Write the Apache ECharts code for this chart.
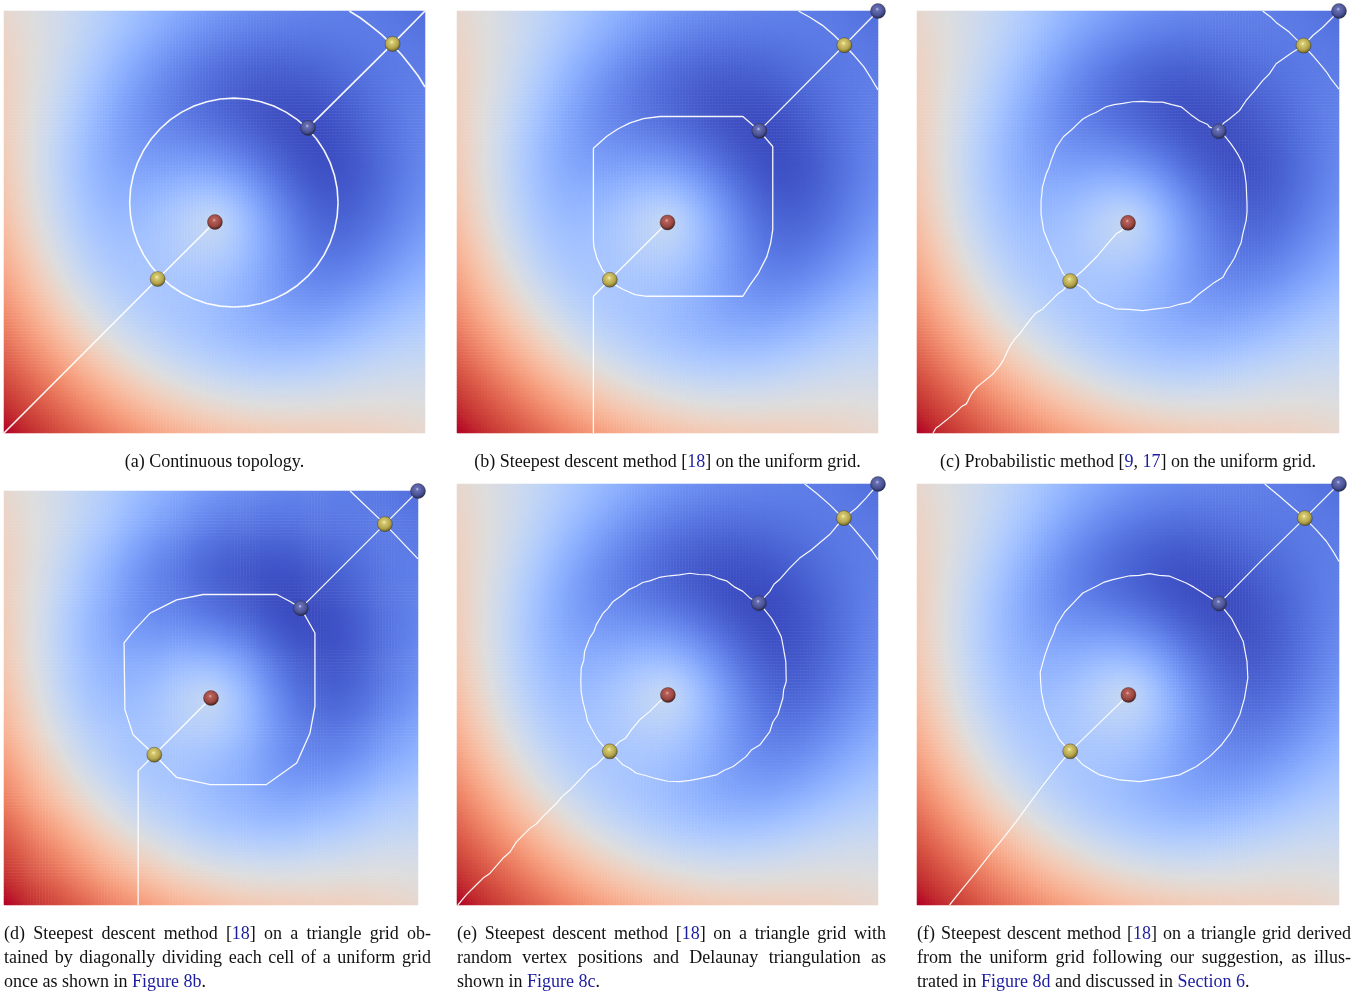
<!DOCTYPE html>
<html><head><meta charset="utf-8">
<script src="https://cdn.jsdelivr.net/npm/echarts@6/dist/echarts.min.js"></script>
<style>html,body{margin:0;padding:0;background:#fff}#chart{width:1359px;height:992px}</style>
</head><body><div id="chart"></div>
<script>
// ---------------- DATA ----------------
// scalar field (analytic test function shown in every panel), domain 0..100 x 0..100
const FIELD_GRID_N = 140;
const FIELD_CENTER = [50, 50];
const FIELD_SLOPE = 1.0;        // linear ramp along the diagonal
const RING_RADIUS = 25;
const RING_WIDTH2 = 645.6;
const RING_DEPTH = 0.804;

// critical points (u, v in 0..100)
const CP_A_MAX = [[50.1, 50.0]];
const CP_A_MIN = [[72.2, 72.3]];
const CP_A_SAD = [[36.5, 36.5], [92.3, 92.2]];
const CP_B_MAX = [[50.0, 49.9]];
const CP_B_MIN = [[71.8, 71.6], [100, 100]];
const CP_B_SAD = [[36.3, 36.3], [92.0, 91.9]];
const CP_C_MAX = [[50.0, 49.8]];
const CP_C_MIN = [[71.5, 71.5], [100, 100]];
const CP_C_SAD = [[36.3, 36.0], [91.6, 91.8]];
const CP_D_MAX = [[50.0, 50.0]];
const CP_D_MIN = [[71.7, 71.7], [100, 100]];
const CP_D_SAD = [[36.3, 36.3], [92.0, 92.0]];
const CP_E_MAX = [[50.1, 49.9]];
const CP_E_MIN = [[71.7, 71.7], [100, 100]];
const CP_E_SAD = [[36.3, 36.5], [91.9, 91.9]];
const CP_F_MAX = [[50.1, 49.9]];
const CP_F_MIN = [[71.6, 71.6], [100, 100]];
const CP_F_SAD = [[36.3, 36.5], [91.9, 91.9]];

// separatrices
const SEP_A_CIRCLE = [[79.35,54.6],[79.14,57.83],[78.51,61.01],[77.47,64.07],[76.03,66.98],[74.24,69.67],[72.10,72.10],[69.67,74.24],[66.98,76.03],[64.07,77.47],[61.01,78.51],[57.83,79.14],[54.6,79.35],
  [51.37,79.14],[48.19,78.51],[45.13,77.47],[42.22,76.03],[39.53,74.24],[37.10,72.10],[34.96,69.67],[33.17,66.98],[31.73,64.07],[30.69,61.01],[30.06,57.83],[29.85,54.6],
  [30.06,51.37],[30.69,48.19],[31.73,45.13],[33.17,42.22],[34.96,39.53],[37.10,37.10],[39.53,34.96],[42.22,33.17],[45.13,31.73],[48.19,30.69],[51.37,30.06],[54.6,29.85],
  [57.83,30.06],[61.01,30.69],[64.07,31.73],[66.98,33.17],[69.67,34.96],[72.10,37.10],[74.24,39.53],[76.03,42.22],[77.47,45.13],[78.51,48.19],[79.14,51.37],[79.35,54.6]];
const SEP_A_DIAG = [[0,0],[36.5,36.5],[50.1,50.0]];
const SEP_A_UP = [[72.2,72.3],[92.3,92.2],[100,100]];
const SEP_A_ARC = [[82.0,100],[84.6,98.4],[87.2,96.4],[89.7,94.4],[92.1,92.1],[94.4,89.7],[96.4,87.2],[98.4,84.6],[100,82.0]];

const SEP_B_LOOP = [[36.3,36.3],[34.4,38.9],[33.2,41.5],[32.5,44.2],[32.4,45.8],[32.4,67.5],[35.6,70.3],[38.3,72.1],[41.1,73.5],[44.3,74.5],[48.2,75.0],[67.9,75.0],[71.8,71.6],[75.0,67.9],[75.0,48.2],[74.5,45.0],[73.6,41.8],[71.6,37.9],[69.6,35.1],[67.9,32.4],[45.1,32.4],[42.3,32.8],[39.5,34.0],[37.5,35.1],[36.3,36.3]];
const SEP_B_DOWN = [[36.3,36.3],[32.4,32.4],[32.4,0]];
const SEP_B_MAXLINK = [[36.3,36.3],[50.0,49.9]];
const SEP_B_UP = [[71.8,71.6],[92.0,91.9],[100,100]];
const SEP_B_ARC = [[81.1,100],[84.0,98.4],[86.8,96.6],[89.5,94.3],[92.0,91.9],[94.3,89.5],[96.6,86.8],[98.4,84.0],[100,81.3]];

const SEP_C_LOOP = [[71.5,71.5],[69.2,72.6],[68.9,73.1],[66.9,74.0],[64.8,75.5],[64.4,75.9],[62.6,77.3],[60.4,77.8],[58.2,78.4],[55.8,78.4],[53.5,78.6],[51.1,78.5],[48.8,78.1],[46.7,77.8],[44.8,77.3],[42.5,76.0],[40.9,75.3],[39.3,74.4],[38.0,73.2],[36.9,72.1],[34.7,70.2],[33.8,68.9],[33.0,67.7],[31.8,64.6],[31.3,63.0],[30.6,61.4],[29.7,58.2],[29.6,56.7],[29.4,55.1],[29.4,51.9],[29.7,49.9],[30.0,48.0],[31.3,44.8],[32.0,43.1],[33.0,41.3],[33.8,39.4],[34.7,37.7],[36.3,36.0],[38.3,35.0],[40.1,33.8],[41.3,32.3],[42.9,31.0],[45.0,30.3],[47.2,29.4],[50.3,29.3],[53.5,29.0],[56.6,29.4],[59.8,29.8],[62.2,30.5],[64.6,31.0],[66.9,33.0],[68.4,34.1],[70.1,35.4],[72.5,36.9],[73.4,38.6],[74.4,40.1],[75.3,41.6],[76.0,43.3],[76.8,45.1],[77.2,47.2],[78.0,50.4],[78.2,52.3],[78.2,54.3],[78.0,59.0],[77.7,61.3],[77.2,63.8],[76.0,66.1],[75.3,67.2],[74.4,68.5],[72.8,70.5],[71.5,71.5]];
const SEP_C_DIAG = [[36.3,36.0],[34.6,33.8],[33.4,33.0],[32.2,31.8],[29.8,29.4],[28.0,28.3],[26.7,26.7],[24.3,23.5],[23.2,22.3],[21.9,20.4],[20.4,17.2],[19.5,15.8],[18.0,14.0],[15.2,11.7],[14.2,10.9],[12.9,9.3],[11.7,6.9],[10.6,6.3],[9.3,5.0],[6.9,3.0],[5.4,1.8],[4.5,1.2],[3.8,0]];
const SEP_C_MAXLINK = [[36.3,36.0],[39.3,38.5],[42.5,41.7],[44.8,44.4],[47.2,47.2],[48.4,47.9],[50.0,49.8]];
const SEP_C_UP = [[71.5,71.5],[72.6,73.4],[74.0,74.4],[76.4,76.4],[78.0,78.8],[80.3,81.5],[81.9,83.5],[83.5,85.1],[85.1,87.5],[86.7,88.6],[89.0,90.2],[91.6,91.8],[93.8,94.2],[96.1,96.1],[100,100]];
const SEP_C_ARC = [[81.9,100],[83.8,98.6],[85.1,97.3],[88.2,95.0],[89.8,93.4],[91.6,91.8],[93.8,89.4],[96.1,86.7],[97.0,85.6],[98.1,83.9],[100,81.5]];

const SEP_D_LOOP = [[36.3,36.3],[31.2,41.1],[29.2,47.2],[29.0,63.3],[31.2,66.1],[35.3,70.5],[41.7,73.7],[48.1,75.0],[65.9,75.0],[69.1,73.3],[71.7,71.7],[75.1,65.7],[75.1,48.0],[73.9,41.5],[70.7,34.3],[63.4,29.1],[49.8,29.1],[41.7,30.8],[36.3,36.3]];
const SEP_D_DOWN = [[36.3,36.3],[32.4,32.4],[32.4,0]];
const SEP_D_MAXLINK = [[36.3,36.3],[50.0,50.0]];
const SEP_D_UP = [[71.7,71.7],[92.0,92.0],[100,100]];
const SEP_D_X = [[83.6,100],[92.0,92.0],[100,83.6]];

const SEP_E_LOOP = [[71.7,71.7],[69.5,73.0],[67.9,74.5],[66.0,75.5],[64.0,77.0],[62.0,77.6],[60.0,78.4],[57.5,78.5],[55.3,78.8],[52.8,78.4],[50.5,78.2],[48.0,77.8],[45.8,77.0],[44.1,76.6],[42.6,75.7],[40.8,74.9],[39.4,73.7],[37.1,72.1],[35.8,70.4],[34.7,69.3],[33.1,66.6],[32.5,64.9],[31.5,63.4],[30.3,60.2],[30.1,58.1],[29.5,56.3],[29.4,53.1],[29.5,50.6],[29.9,48.3],[30.7,45.2],[31.0,43.7],[31.9,42.0],[33.5,39.2],[34.6,37.9],[36.3,36.5],[39.4,33.3],[41.0,32.5],[42.6,31.3],[45.0,30.7],[47.3,30.0],[50.0,29.4],[52.9,29.3],[55.4,29.6],[57.6,30.0],[61.6,30.9],[63.5,32.0],[65.6,32.9],[68.7,35.3],[70.0,36.9],[71.9,38.0],[74.3,41.2],[75.0,43.4],[76.2,45.2],[77.4,49.1],[77.6,51.2],[78.2,53.1],[78.1,57.8],[77.4,61.8],[77.0,63.8],[76.2,65.4],[74.7,68.1],[73.1,70.1],[71.7,71.7]];
const SEP_E_DIAG = [[36.3,36.5],[33.1,33.3],[31.2,32.0],[29.9,30.5],[26.8,27.3],[25.0,25.8],[23.6,24.1],[20.4,21.0],[18.9,19.3],[17.3,18.2],[14.1,15.0],[12.6,12.6],[10.9,11.1],[7.8,7.5],[6.2,6.4],[4.6,4.8],[2.2,2.4],[0.2,0]];
const SEP_E_MAXLINK = [[36.3,36.5],[38.6,38.8],[40.0,39.6],[41.4,41.6],[43.4,44.0],[45.8,46.0],[48.1,48.3],[50.1,49.9]];
const SEP_E_UP = [[71.7,71.7],[74.3,74.5],[75.3,76.2],[76.6,77.3],[79.0,80.0],[81.4,82.4],[84.2,84.4],[86.1,86.0],[88.5,88.0],[90.1,89.9],[91.9,91.9],[94.9,94.3],[97.2,96.7],[100,100]];
const SEP_E_ARC = [[82.6,100],[85.4,97.8],[88.5,95.1],[90.5,93.1],[91.9,91.9],[94.1,89.5],[96.4,86.8],[98.4,84.4],[100,82.0]];

const SEP_F_LOOP = [[71.6,71.6],[67.8,74.1],[65.6,75.5],[63.8,76.5],[59.9,78.1],[57.4,78.3],[55.1,78.7],[52.7,78.3],[50.4,78.2],[46.4,77.3],[44.4,76.7],[42.5,75.7],[39.3,74.1],[37.0,71.7],[35.0,69.6],[33.0,66.4],[32.3,64.4],[31.4,62.4],[30.3,59.3],[29.2,55.3],[29.3,52.9],[29.5,50.5],[30.3,46.6],[31.8,43.0],[33.8,39.2],[36.3,36.5],[39.3,33.3],[41.2,32.1],[43.3,30.9],[48.0,29.7],[52.8,29.3],[57.5,30.0],[62.2,30.9],[66.2,32.9],[69.4,35.3],[72.1,38.0],[74.5,41.2],[76.5,45.2],[77.6,49.1],[78.4,53.9],[78.2,57.8],[77.3,62.6],[76.1,65.0],[74.5,68.1],[72.9,70.1],[71.6,71.6]];
const SEP_F_DIAG = [[36.3,36.5],[33.0,32.5],[29.9,28.5],[26.7,24.2],[23.5,19.8],[20.4,15.8],[17.2,11.9],[14.1,7.9],[10.9,4.0],[7.7,0]];
const SEP_F_MAXLINK = [[36.3,36.5],[50.1,49.9]];
const SEP_F_UP = [[71.6,71.6],[81.6,81.8],[91.9,91.9],[100,100]];
const SEP_F_ARC = [[82.4,100],[85.9,97.1],[89.1,94.3],[91.9,91.9],[94.6,89.1],[97.0,86.4],[98.6,84.0],[100,81.6]];

// captions
const CAPTION_TOP = [
  "(a) Continuous topology.",
  "(b) Steepest descent method [{r|18}] on the uniform grid.",
  "(c) Probabilistic method [{r|9}, {r|17}] on the uniform grid."
];
const CAPTION_D = ["(d) Steepest descent method [{r|18}] on a triangle grid ob-",
  "tained by diagonally dividing each cell of a uniform grid",
  "once as shown in {r|Figure 8b}."];
const CAPTION_E = ["(e) Steepest descent method [{r|18}] on a triangle grid with",
  "random vertex positions and Delaunay triangulation as",
  "shown in {r|Figure 8c}."];
const CAPTION_F = ["(f) Steepest descent method [{r|18}] on a triangle grid derived",
  "from the uniform grid following our suggestion, as illus-",
  "trated in {r|Figure 8d} and discussed in {r|Section 6}."];

// ---------------- STYLE / LAYOUT ----------------
const COOLWARM = ['#3b4cc0','#445acc','#4d68d7','#5775e1','#6282ea','#6c8ef1','#779af7','#82a5fb','#8db0fe','#98b9ff','#a3c2ff','#aec9fd','#b8d0f9','#c2d5f4','#ccd9ee','#d5dbe6','#dddddd','#e5d8d1','#ecd3c5','#f1ccb9','#f5c4ad','#f7bba0','#f7b194','#f7a687','#f49a7b','#f18d6f','#ec7f63','#e57058','#de604d','#d55042','#cb3e38','#c0282f','#b40426'];
const PANELS = [
  {left:4,   top:11,  width:421, height:422, lw:1.6, cp:[CP_A_MAX,CP_A_MIN,CP_A_SAD], lines:[[SEP_A_CIRCLE,false],[SEP_A_DIAG,false],[SEP_A_UP,false],[SEP_A_ARC,false]]},
  {left:457, top:11,  width:421, height:422, lw:1.3, cp:[CP_B_MAX,CP_B_MIN,CP_B_SAD], lines:[[SEP_B_LOOP,false],[SEP_B_DOWN,false],[SEP_B_MAXLINK,false],[SEP_B_UP,false],[SEP_B_ARC,false]]},
  {left:917, top:11,  width:422, height:422, lw:1.2, cp:[CP_C_MAX,CP_C_MIN,CP_C_SAD], lines:[[SEP_C_LOOP,false],[SEP_C_DIAG,false],[SEP_C_MAXLINK,false],[SEP_C_UP,false],[SEP_C_ARC,false]]},
  {left:4,   top:491, width:414, height:414, lw:1.3, cp:[CP_D_MAX,CP_D_MIN,CP_D_SAD], lines:[[SEP_D_LOOP,false],[SEP_D_DOWN,false],[SEP_D_MAXLINK,false],[SEP_D_UP,false],[SEP_D_X,false]]},
  {left:457, top:484, width:421, height:421, lw:1.2, cp:[CP_E_MAX,CP_E_MIN,CP_E_SAD], lines:[[SEP_E_LOOP,false],[SEP_E_DIAG,false],[SEP_E_MAXLINK,false],[SEP_E_UP,false],[SEP_E_ARC,false]]},
  {left:917, top:484, width:422, height:421, lw:1.2, cp:[CP_F_MAX,CP_F_MIN,CP_F_SAD], lines:[[SEP_F_LOOP,false],[SEP_F_DIAG,false],[SEP_F_MAXLINK,false],[SEP_F_UP,false],[SEP_F_ARC,false]]}
];
const SPHERES = [
  ['#eab4ac','#b8605a','#984640','#481c1a'],
  ['#c4c8f0','#6870b4','#4a5294','#22264e'],
  ['#fbf6c4','#d6ca70','#b4a44c','#625a22']
];
const FONT = 'Liberation Serif';
const BLUE = '#1c1ca0';

// ---------------- BUILD ----------------
function fieldValue(u, v) {
  const r = Math.hypot(u - FIELD_CENTER[0], v - FIELD_CENTER[1]);
  return -FIELD_SLOPE * (u + v - 100) / 100 - RING_DEPTH * Math.exp(-((r - RING_RADIUS) ** 2) / RING_WIDTH2);
}
const cats = [];
for (let i = 0; i < FIELD_GRID_N; i++) cats.push(i);
const field = [];
let fmin = Infinity, fmax = -Infinity;
for (let i = 0; i < FIELD_GRID_N; i++) {
  for (let j = 0; j < FIELD_GRID_N; j++) {
    const val = fieldValue((i + 0.5) * 100 / FIELD_GRID_N, (j + 0.5) * 100 / FIELD_GRID_N);
    fmin = Math.min(fmin, val); fmax = Math.max(fmax, val);
    field.push([i, j, val]);
  }
}

const grid = [], xAxis = [], yAxis = [], series = [];
PANELS.forEach((p, k) => {
  grid.push({left: p.left, top: p.top, width: p.width, height: p.height});
  xAxis.push({type: 'category', data: cats, gridIndex: k, show: false});
  yAxis.push({type: 'category', data: cats, gridIndex: k, show: false});
  series.push({type: 'heatmap', xAxisIndex: k, yAxisIndex: k, data: field, progressive: 0,
    itemStyle: {borderWidth: 0}, emphasis: {disabled: true}, silent: true, z: 1});
});
PANELS.forEach((p, k) => {
  grid.push({left: p.left, top: p.top, width: p.width, height: p.height});
  xAxis.push({type: 'value', min: 0, max: 100, gridIndex: 6 + k, show: false});
  yAxis.push({type: 'value', min: 0, max: 100, gridIndex: 6 + k, show: false});
});
PANELS.forEach((p, k) => {
  p.lines.forEach(([pts, sm]) => {
    series.push({type: 'line', xAxisIndex: 6 + k, yAxisIndex: 6 + k, data: pts, symbol: 'none',
      smooth: sm ? 0.5 : false, silent: true, z: 3,
      lineStyle: {color: 'rgba(255,255,255,0.95)', width: p.lw}});
  });
  p.cp.forEach((pts, t) => {
    const c = SPHERES[t];
    series.push({type: 'scatter', xAxisIndex: 6 + k, yAxisIndex: 6 + k, data: pts, symbol: 'circle',
      symbolSize: 15, clip: false, silent: true, z: 5,
      itemStyle: {
        color: {type: 'radial', x: 0.45, y: 0.38, r: 0.62,
          colorStops: [{offset: 0, color: c[0]}, {offset: 0.18, color: c[1]}, {offset: 0.65, color: c[2]}, {offset: 1, color: c[3]}]},
        borderColor: 'rgba(30,30,30,0.55)', borderWidth: 0.6, opacity: 1
      }});
  });
});

// captions
const meas = document.createElement('canvas').getContext('2d');
meas.font = "18px '" + FONT + "'";
const plain = s => s.replace(/\{r\|([^}]*)\}/g, '$1');
const baseRich = {r: {color: BLUE, fontFamily: FONT, fontSize: 18, lineHeight: 24}};
const title = [];
CAPTION_TOP.forEach((txt, k) => {
  const p = PANELS[k];
  title.push({text: txt, left: p.left + p.width / 2, top: 450, padding: 0, textAlign: 'center',
    textStyle: {fontFamily: FONT, fontSize: 18, fontWeight: 'normal', color: '#111', lineHeight: 24, rich: baseRich}});
});
const bottom = [[CAPTION_D, 4, 427], [CAPTION_E, 457, 429], [CAPTION_F, 917, 434]];
bottom.forEach(([lines, left, width]) => {
  lines.forEach((ln, i) => {
    let text = ln, rich = baseRich;
    if (i < lines.length - 1) {
      const words = ln.split(' ');
      const tot = words.reduce((s, w) => s + meas.measureText(plain(w)).width, 0);
      const gap = (width - tot) / (words.length - 1);
      text = words.join('{g| }');
      rich = {r: baseRich.r, g: {width: gap, fontFamily: FONT, fontSize: 18, lineHeight: 24}};
    }
    title.push({text: text, left: left, top: 922 + i * 24, padding: 0,
      textStyle: {fontFamily: FONT, fontSize: 18, fontWeight: 'normal', color: '#111', lineHeight: 24, rich: rich}});
  });
});

const chart = echarts.init(document.getElementById('chart'), null, {renderer: 'canvas'});
chart.setOption({
  animation: false,
  backgroundColor: '#ffffff',
  title: title,
  grid: grid, xAxis: xAxis, yAxis: yAxis,
  visualMap: {type: 'continuous', show: false, min: fmin, max: fmax, dimension: 2,
    seriesIndex: [0, 1, 2, 3, 4, 5], inRange: {color: COOLWARM}},
  series: series
});
</script></body></html>
